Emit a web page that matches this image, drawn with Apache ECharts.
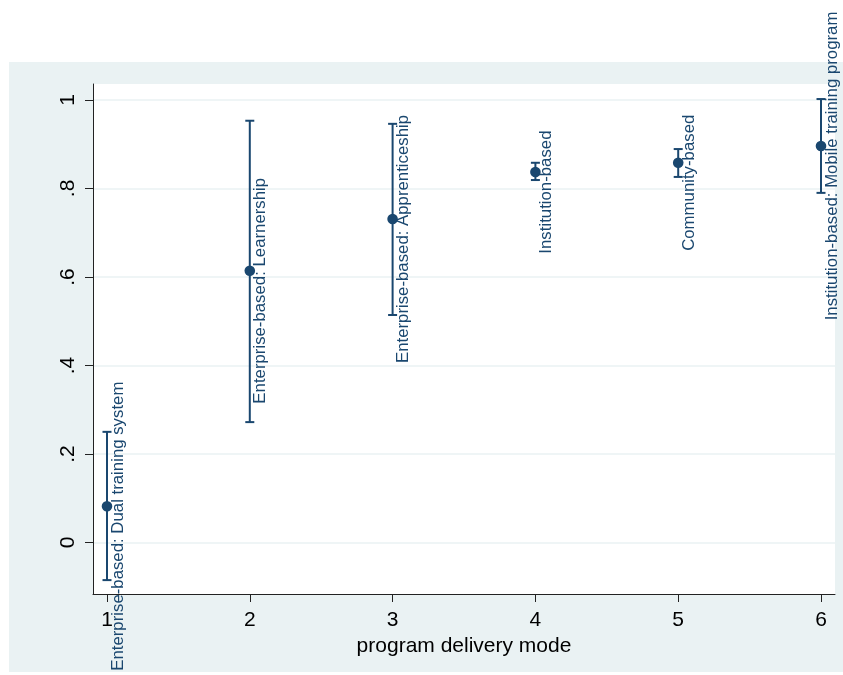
<!DOCTYPE html>
<html>
<head>
<meta charset="utf-8">
<script src="https://cdn.jsdelivr.net/npm/echarts@6/dist/echarts.min.js"></script>
<style>
html,body{margin:0;padding:0;background:#ffffff;}
#chart{width:843px;height:675px;}
</style>
</head>
<body>
<div id="chart"></div>
<script>
// Data
var modes = [1, 2, 3, 4, 5, 6];
var means = [0.082, 0.614, 0.731, 0.837, 0.858, 0.896];
var lower = [-0.085, 0.272, 0.514, 0.819, 0.826, 0.790];
var upper = [0.250, 0.953, 0.946, 0.858, 0.889, 1.002];
var labels = [
  'Enterprise-based: Dual training system',
  'Enterprise-based: Learnership',
  'Enterprise-based: Apprenticeship',
  'Institution-based',
  'Community-based',
  'Institution-based: Mobile training program'
];
var yTicks = [0, 0.2, 0.4, 0.6, 0.8, 1];
var yTickLabels = ['0', '.2', '.4', '.6', '.8', '1'];
var xTicks = [1, 2, 3, 4, 5, 6];

var NAVY = '#1a476f';
var PANEL = '#eaf2f3';
var FONT = '"Liberation Sans", Arial, sans-serif';

var data = modes.map(function (m, i) {
  return [m, means[i], lower[i], upper[i], i];
});

var chart = echarts.init(document.getElementById('chart'), null, {renderer: 'canvas'});
chart.setOption({
  animation: false,
  backgroundColor: '#ffffff',
  graphic: [{
    type: 'rect', z: -10, silent: true,
    shape: {x: 9, y: 62, width: 834, height: 610},
    style: {fill: PANEL}
  }],
  grid: {
    left: 93, right: 8, top: 84, bottom: 81,
    show: true, backgroundColor: '#ffffff', borderWidth: 0,
    containLabel: false
  },
  xAxis: {
    type: 'value',
    min: 0.902, max: 6.098,
    name: 'program delivery mode',
    nameLocation: 'middle',
    nameGap: 34,
    nameTextStyle: {color: '#000', fontSize: 21, fontFamily: FONT},
    axisLine: {show: true, onZero: false, lineStyle: {color: '#222', width: 1}},
    axisTick: {show: true, length: 8, lineStyle: {color: '#222', width: 1}, customValues: xTicks},
    axisLabel: {color: '#000', fontSize: 21, fontFamily: FONT, margin: 16, customValues: xTicks,
      formatter: function (v) { return String(v); }},
    splitLine: {show: false}
  },
  yAxis: {
    type: 'value',
    min: -0.1164, max: 1.036,
    axisLine: {show: true, onZero: false, lineStyle: {color: '#222', width: 1}},
    axisTick: {show: true, length: 8, lineStyle: {color: '#222', width: 1}, customValues: yTicks},
    axisLabel: {color: '#000', fontSize: 21, fontFamily: FONT, margin: 14, rotate: 90,
      customValues: yTicks,
      formatter: function (v) {
        for (var i = 0; i < yTicks.length; i++) {
          if (Math.abs(yTicks[i] - v) < 1e-9) return yTickLabels[i];
        }
        return '';
      }},
    splitLine: {show: true, lineStyle: {color: PANEL, width: 1.5}}
  },
  series: [{
    type: 'custom',
    clip: false,
    data: data,
    encode: {x: 0, y: [1, 2, 3]},
    renderItem: function (params, api) {
      var x = api.value(0);
      var p = api.coord([x, api.value(1)]);
      var lo = api.coord([x, api.value(2)]);
      var hi = api.coord([x, api.value(3)]);
      var idx = api.value(4);
      var cap = 4.5;
      var lineStyle = {stroke: NAVY, lineWidth: 2};
      return {
        type: 'group',
        children: [
          {type: 'line', shape: {x1: p[0], y1: lo[1], x2: p[0], y2: hi[1]}, style: lineStyle},
          {type: 'line', shape: {x1: p[0] - cap, y1: lo[1], x2: p[0] + cap, y2: lo[1]}, style: lineStyle},
          {type: 'line', shape: {x1: p[0] - cap, y1: hi[1], x2: p[0] + cap, y2: hi[1]}, style: lineStyle},
          {type: 'circle', shape: {cx: p[0], cy: p[1], r: 5.3}, style: {fill: NAVY}},
          {type: 'text', x: p[0] + 11, y: p[1] + 20, rotation: Math.PI / 2,
            style: {text: labels[idx], fill: NAVY, fontSize: 16.8, fontFamily: FONT,
              align: 'center', verticalAlign: 'middle',
              textAlign: 'center', textVerticalAlign: 'middle'}}
        ]
      };
    }
  }]
});
</script>
</body>
</html>
